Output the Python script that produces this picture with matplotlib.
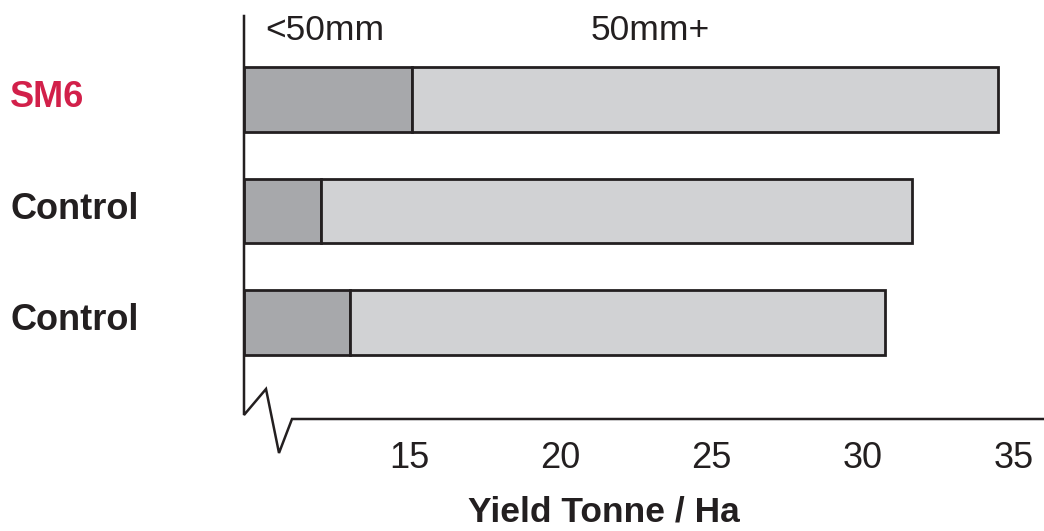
import matplotlib
matplotlib.use("Agg")
import matplotlib.pyplot as plt
from matplotlib.lines import Line2D
from matplotlib import transforms

plt.rcParams['font.family'] = ['Liberation Sans', 'DejaVu Sans']

# Data
categories = ["SM6", "Control", "Control"]
under50_end = [15.08, 12.07, 13.03]     # cumulative yield at end of <50mm segment
total_yield = [34.49, 31.64, 30.74]     # total yield (end of 50mm+ segment)
segment_labels = ["<50mm", "50mm+"]
xticks = [15, 20, 25, 30, 35]
axis_start = 9.52   # broken-axis start value

W, H = 1044, 531
fig = plt.figure(figsize=(W / 100, H / 100), dpi=100)
ax_left, ax_right, ax_top, ax_bot = 244, 1044, 16, 419
ax = fig.add_axes([ax_left / W, 1 - ax_bot / H, (ax_right - ax_left) / W, (ax_bot - ax_top) / H])

px_per_unit = 30.2
ax.set_xlim(axis_start, axis_start + (ax_right - ax_left) / px_per_unit)
spacing = 111.5
y0 = 99.5
ax.set_ylim((ax_bot - y0) / spacing, (ax_top - y0) / spacing)

ypos = list(range(len(categories)))
dark = "#a7a8ab"
light = "#d1d2d4"
edge = "#231f20"
bh = 0.575
for i, (u, t) in enumerate(zip(under50_end, total_yield)):
    ax.barh(ypos[i], u - axis_start, left=axis_start, height=bh, color=dark,
            edgecolor=edge, linewidth=2.0, zorder=2)
    ax.barh(ypos[i], t - u, left=u, height=bh, color=light,
            edgecolor=edge, linewidth=2.0, zorder=2)

for s in ax.spines.values():
    s.set_visible(False)
ax.set_yticks([])
ax.set_xticks(xticks)
ax.set_xticklabels([str(v) for v in xticks], fontsize=26, color="#231f20")
ax.tick_params(axis='x', length=0, pad=16)

# Axis line with break
pts = [(244, 16), (244, 415), (266, 389), (279, 453), (292, 419), (1044, 419)]
xs = [p[0] / W for p in pts]
ys = [1 - p[1] / H for p in pts]
fig.add_artist(Line2D(xs, ys, color=edge, linewidth=1.8, transform=fig.transFigure,
                      solid_joinstyle='miter'))

# Category labels
trans = transforms.blended_transform_factory(fig.transFigure, ax.transData)
for i, c in enumerate(categories):
    col = "#d2204a" if c == "SM6" else "#231f20"
    ax.text(10 / W, ypos[i] - 0.015, c, transform=trans, ha='left', va='center',
            fontsize=26, fontweight='bold', color=col)

# Segment labels
ax.text(265 / W, 1 - 30 / H, segment_labels[0], transform=fig.transFigure,
        ha='left', va='center', fontsize=25.5, color="#231f20")
ax.text(591 / W, 1 - 30 / H, segment_labels[1], transform=fig.transFigure,
        ha='left', va='center', fontsize=25.5, color="#231f20")

fig.text(604 / W, 1 - 512 / H, "Yield Tonne / Ha", ha='center', va='center',
         fontsize=25.5, fontweight='bold', color="#231f20")

fig.savefig("out.png", dpi=100)
